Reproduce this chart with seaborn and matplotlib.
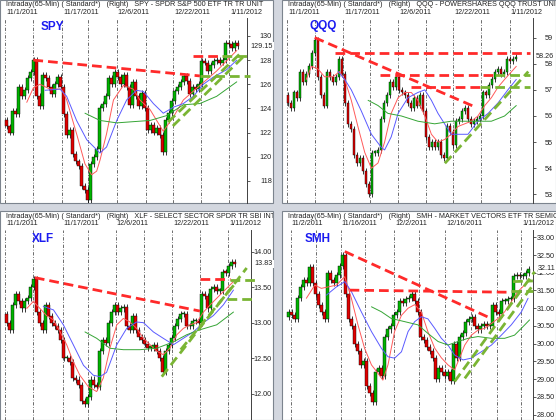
import numpy as np
import pandas as pd
import matplotlib
matplotlib.use("Agg")
import matplotlib.pyplot as plt
import seaborn as sns
from matplotlib.patches import Rectangle
from matplotlib.transforms import Bbox, TransformedBbox
from matplotlib import font_manager

# ---------------- data ----------------
spy_close = [122.5, 122.0, 123.8, 123.5, 125.8, 125.0, 125.5, 126.5, 127.0, 128.0,
             125.0, 124.2, 126.8, 126.5, 125.8, 125.2, 126.0, 126.6, 125.8, 123.5,
             121.8, 122.2, 120.2, 119.6, 119.2, 117.6, 117.2, 116.4, 119.4, 120.0,
             120.6, 124.0, 124.4, 125.0, 126.5, 126.0, 127.0, 126.6, 126.0, 126.8,
             125.8, 124.3, 126.2, 125.0, 124.2, 125.3, 124.0, 122.2, 122.6, 122.0,
             122.4, 121.8, 120.4, 123.0, 123.6, 124.6, 125.4, 125.8, 126.2, 126.7,
             126.3, 125.2, 125.8, 125.6, 126.0, 127.9, 127.8, 127.1, 127.6, 127.9,
             128.0, 127.8, 128.0, 129.4, 129.3, 129.0, 129.4, 129.15]
spy_open0 = 123.0
spy_red_x = [6.7, 8.9, 11.1, 14.4, 18.3, 20, 23.3, 26.1, 28.3, 30, 31.1, 33.3, 35.6, 38.9,
             42.2, 44.4, 47.8, 52.2, 55.6, 58.9, 64.4, 70, 76.7]
spy_red_y = [124.5, 125.7, 126.0, 125.6, 125.6, 124.7, 121.9, 119.4, 118.5, 118.8, 119.7,
             121.9, 124.7, 125.9, 125.6, 124.7, 123.9, 122.1, 123.3, 124.7, 125.9, 127.1, 128.8]
spy_blue_x = [12.8, 17.8, 20, 23.3, 26.7, 31.1, 33.3, 36.7, 40, 43.3, 45.6, 48.9, 52.2,
              55.6, 58.9, 62.2, 65.6, 68.9, 73.3, 76.7]
spy_blue_y = [125.5, 125.6, 125.0, 123.0, 121.4, 120.3, 120.8, 123.0, 124.7, 125.5, 125.4,
              124.4, 123.6, 124.1, 124.4, 125.0, 126.0, 126.6, 127.2, 128.0]
spy_green_x = [26.1, 31.1, 36.7, 42.2, 47.8, 53.3, 58.9, 64.4, 70, 76.7]
spy_green_y = [123.6, 123.0, 122.8, 122.9, 123.0, 123.4, 124.3, 124.4, 125.0, 126.2]
spy_red_trend = [[8.9, 128.0, 64.4, 126.69], [62.1, 128.37, 71.8, 128.37]]
spy_green_trend = [[71.8, 128.37, 81.1, 128.37], [64.4, 126.69, 81.1, 126.69],
                   [53.8, 122.87, 78.4, 128.67], [55.4, 122.54, 78.8, 128.26]]
spy_ticks = [118, 120, 122, 124, 126, 128, 130]
spy_grid = [-0.56, 8.89, 18.44, 27.2, 36.7, 46.3, 55.6, 64.9, 74.2]
spy_dates = ["11/1/2011", "11/17/2011", "12/6/2011", "12/22/2011", "1/11/2012"]

qqq_close = [56.5, 56.3, 56.9, 56.7, 57.7, 57.3, 57.6, 57.9, 58.4, 58.9,
             57.5, 56.8, 56.4, 57.7, 57.5, 57.3, 57.5, 58.2, 57.6, 56.5,
             55.7, 55.5, 54.5, 54.2, 54.4, 53.9, 53.4, 53.0, 54.6, 54.6,
             54.7, 55.9, 56.5, 56.8, 57.3, 57.1, 57.5, 57.0, 56.9, 56.8,
             56.5, 56.3, 56.7, 56.4, 56.8, 56.2, 55.2, 54.8, 55.0, 54.8,
             55.0, 54.5, 54.4, 55.6, 55.4, 54.9, 55.8, 55.9, 56.2, 56.3,
             55.9, 55.7, 55.8, 55.9, 56.0, 56.9, 56.8, 57.2, 57.4, 57.7,
             57.8, 57.6, 57.7, 58.2, 58.1, 58.2, 58.26]
qqq_open0 = 56.8
qqq_red_x = [6.1, 7.8, 10, 12.2, 15, 17.2, 18.9, 21.1, 23.3, 25.6, 27.8, 30, 32.2, 34.4,
             36.7, 38.9, 41.1, 43.3, 45.6, 47.8, 50, 52.2, 54.4, 56.7, 58.9, 61.1, 63.3,
             65.6, 67.8, 70, 72.2, 76.1]
qqq_red_y = [57.4, 57.9, 57.8, 57.5, 57.5, 57.7, 57.4, 56.6, 55.6, 54.6, 54.0, 54.2, 55.0,
             56.1, 56.7, 56.9, 56.9, 56.6, 56.0, 55.3, 55.0, 55.1, 55.3, 55.6, 55.7, 55.8,
             56.0, 56.4, 56.7, 57.1, 57.4, 57.9]
qqq_blue_x = [16.7, 18.9, 21.1, 24.4, 27.8, 31.1, 32.2, 34.4, 36.7, 40, 43.3, 45.6, 47.8,
              50, 52.2, 54.4, 57.2, 60, 63.3, 66.7, 70, 73.3, 76.1]
qqq_blue_y = [57.7, 57.4, 57.0, 56.2, 55.3, 54.8, 54.7, 55.2, 56.1, 56.7, 56.9, 57.0, 56.6,
              56.1, 55.7, 55.3, 55.3, 55.3, 55.8, 56.1, 56.5, 57.0, 57.4]
qqq_green_x = [26.7, 30, 33.3, 37.8, 43.3, 48.9, 54.4, 58.9, 63.3, 67.8, 72.2, 76.1]
qqq_green_y = [56.6, 56.4, 56.1, 56.0, 55.8, 55.7, 55.8, 55.8, 55.8, 55.8, 56.0, 56.4]
qqq_red_trend = [[8.9, 59.0, 61.7, 56.38], [15.6, 58.40, 80.7, 58.40],
                 [30.6, 57.57, 69.0, 57.57], [41.0, 57.12, 64.0, 57.12]]
qqq_green_trend = [[69.0, 57.55, 80.7, 57.55], [64.0, 57.12, 80.7, 57.12],
                   [52.3, 54.19, 80.1, 57.70]]
qqq_ticks = [53, 54, 55, 56, 57, 58, 59]
qqq_grid = [-0.2, 8.9, 18.3, 27.2, 36.7, 46.1, 55.0, 64.4, 73.9]
qqq_dates = ["11/1/2011", "11/17/2011", "12/6/2011", "12/22/2011", "1/11/2012"]

xlf_close = [13.0, 12.9, 13.25, 13.4, 13.3, 13.2, 13.3, 13.35, 13.5, 13.62,
             13.15, 13.0, 12.9, 13.25, 13.1, 13.0, 12.95, 12.9, 12.75, 12.5,
             12.5, 12.45, 12.22, 12.2, 12.12, 11.9, 11.85, 11.95, 12.2, 12.12,
             12.1, 12.6, 12.75, 12.72, 13.0, 13.15, 13.25, 13.15, 13.2, 13.22,
             12.95, 12.9, 13.1, 12.9, 12.8, 12.75, 12.7, 12.65, 12.65, 12.68,
             12.6, 12.5, 12.3, 12.6, 12.68, 12.78, 12.95, 13.05, 13.12, 13.12,
             12.95, 12.95, 13.02, 13.03, 13.0, 13.4, 13.38, 13.2, 13.48, 13.5,
             13.45, 13.45, 13.72, 13.7, 13.8, 13.86, 13.83]
xlf_open0 = 13.12
xlf_red_x = [6.7, 8.9, 11.1, 13.3, 15.6, 17.8, 20, 22.2, 24.4, 27.2, 30, 32.2, 34.4, 36.7,
             38.9, 41.1, 43.3, 45.6, 47.8, 50, 52.2, 54.4, 56.7, 58.9, 61.1, 63.3, 65.6,
             67.8, 71.1, 75.6]
xlf_red_y = [13.2, 13.3, 13.2, 13.1, 13.04, 12.87, 12.69, 12.45, 12.26, 12.1, 12.03, 12.22,
             12.64, 12.97, 13.06, 13.01, 12.92, 12.78, 12.69, 12.6, 12.55, 12.64, 12.83,
             12.92, 12.97, 13.0, 13.15, 13.25, 13.39, 13.58]
xlf_blue_x = [12.2, 15.6, 18.9, 22.2, 25.6, 28.9, 31.1, 33.3, 36.7, 40, 43.3, 45.6, 48.9,
              52.2, 55.6, 58.9, 62.2, 65.6, 68.9, 72.2, 75.6]
xlf_blue_y = [13.23, 13.18, 12.97, 12.69, 12.4, 12.26, 12.24, 12.3, 12.69, 12.92, 13.01,
              13.0, 12.87, 12.78, 12.69, 12.78, 12.87, 13.0, 13.1, 13.25, 13.46]
xlf_green_x = [26.1, 30, 34.4, 38.9, 44.4, 50, 55.6, 60, 64.4, 70, 75.6]
xlf_green_y = [12.87, 12.78, 12.64, 12.62, 12.62, 12.64, 12.73, 12.83, 12.9, 12.97, 13.15]
xlf_red_trend = [[9.4, 13.634, 64.4, 13.164], [64.4, 13.61, 74.4, 13.61]]
xlf_green_trend = [[74.4, 13.60, 82.8, 13.60], [73.3, 13.33, 82.8, 13.33],
                   [51.7, 12.24, 80.0, 13.77], [58.0, 12.62, 77.5, 13.62]]
xlf_ticks = [12.0, 12.5, 13.0, 13.5, 14.0]
xlf_grid = [-0.56, 8.9, 18.7, 27.2, 36.4, 45.8, 55.2, 64.4, 73.9]
xlf_dates = ["11/1/2011", "11/17/2011", "12/6/2011", "12/22/2011", "1/11/2012"]

smh_close = [30.9, 30.8, 30.7, 31.3, 31.6, 31.8, 31.7, 32.15, 31.7, 31.4,
             31.1, 30.9, 30.7, 32.0, 31.8, 31.7, 31.95, 32.2, 32.5, 31.4,
             30.7, 30.5, 30.0, 29.8, 29.4, 29.5, 28.8, 28.6, 28.35, 29.2,
             29.3, 29.1, 30.2, 30.4, 30.5, 30.8, 30.9, 31.2, 31.15, 31.25,
             31.3, 31.4, 31.2, 30.9, 30.2, 30.1, 29.9, 29.8, 29.6, 29.0,
             29.3, 29.2, 29.1, 29.2, 28.95, 30.0, 29.6, 30.2, 30.3, 30.6,
             30.7, 30.75, 30.5, 30.4, 30.5, 30.55, 30.5, 30.5, 31.1, 30.9,
             30.85, 31.2, 31.2, 31.25, 31.25, 31.9, 31.95, 31.9, 31.9, 32.0, 32.11]
smh_open0 = 30.75
smh_red_x = [5.9, 8.7, 10.9, 13.1, 15.9, 18.7, 20.9, 23.1, 25.3, 27.6, 29.8, 31.4, 33.1,
             35.3, 37.6, 39.8, 42, 44.2, 46.4, 48.7, 50.9, 53.1, 55.3, 57, 58.7, 60.9,
             63.1, 65.3, 67.6, 69.8, 72, 74.2, 76.4, 79.8]
smh_red_y = [31.28, 31.65, 31.56, 31.6, 31.65, 31.89, 31.28, 30.53, 29.87, 29.4, 29.16,
             28.97, 29.4, 30.34, 30.8, 31.0, 31.1, 30.9, 30.34, 29.87, 29.6, 29.4, 29.26,
             29.6, 29.96, 30.24, 30.38, 30.43, 30.57, 30.71, 30.9, 31.18, 31.47, 31.75]
smh_blue_x = [12.6, 15.9, 18.7, 20.9, 24.2, 27.6, 30.9, 33.1, 35.3, 37.6, 39.8, 42, 44.2,
              46.4, 48.7, 50.9, 53.1, 55.3, 58.1, 60.9, 64.2, 67.6, 70.9, 74.2, 77.6, 79.8]
smh_blue_y = [31.37, 31.6, 31.75, 31.47, 30.9, 30.34, 29.87, 29.63, 29.59, 29.77, 30.34,
              30.62, 30.76, 30.7, 30.43, 30.15, 29.96, 29.68, 29.54, 29.59, 29.77, 29.96,
              30.24, 30.53, 30.9, 31.28]
smh_green_x = [27.6, 30.9, 34.2, 38.7, 43.1, 46.4, 49.8, 53.1, 56.4, 59.8, 63.1, 67.6,
               72, 75.3, 78.7, 80.3]
smh_green_y = [31.04, 30.9, 30.71, 30.62, 30.53, 30.29, 30.06, 29.96, 30.06, 30.15, 30.2,
               30.15, 30.15, 30.24, 30.53, 30.67]
smh_red_trend = [[18.7, 32.60, 67.5, 30.71], [20.3, 31.51, 74.2, 31.45]]
smh_green_trend = [[74.2, 31.49, 81.4, 31.49], [74.8, 31.75, 81.4, 31.77],
                   [55.3, 28.93, 82.0, 32.03], [58.7, 29.02, 81.4, 31.65]]
smh_ticks = [28.0, 28.5, 29.0, 29.5, 30.0, 30.5, 31.0, 31.5, 32.0, 32.5, 33.0]
smh_grid = [0.67, 9.0, 17.3, 25.6, 35.1, 43.6, 52.1, 60.9, 69.4, 77.6]
smh_dates = ["11/2/2011", "11/16/2011", "12/2/2011", "12/16/2011", "1/11/2012"]

spy_header = "Intraday(65-Min) ( Standard*)   (Right)   SPY - SPDR S&P 500 ETF TR TR UNIT"
qqq_header = "Intraday(65-Min) ( Standard*)   (Right)   QQQ - POWERSHARES QQQ TRUST UNIT"
xlf_header = "Intraday(65-Min) ( Standard*)   (Right)   XLF - SELECT SECTOR SPDR TR SBI INT-F"
smh_header = "Intraday(65-Min) ( Standard*)   (Right)   SMH - MARKET VECTORS ETF TR SEMICO"

# ---------------- style ----------------
sns.set_theme(style="white")
_names = {f.name for f in font_manager.fontManager.ttflist}
SMALL_FAM = "Liberation Sans Narrow" if "Liberation Sans Narrow" in _names else "Liberation Sans"
plt.rcParams["font.family"] = [SMALL_FAM, "Liberation Sans", "DejaVu Sans"]

W, H = 556, 420
fig = plt.figure(figsize=(W / 100, H / 100), dpi=100)
fig.patch.set_facecolor("#d3d7df")

# fit the small-text size so that the header prefix spans ~95 px as in the reference
_probe = fig.text(0, 0, "Intraday(65-Min) ( Standard*)", fontsize=10)
fig.canvas.draw()
_w = _probe.get_window_extent().width
_probe.remove()
FS = 10 * 95.0 / _w


def fbox(l, t, r, b):
    return [l / W, 1 - b / H, (r - l) / W, (b - t) / H]


GREEN_C = "#00b400"
RED_C = "#e00000"


def panel(name, close, open0, red, blue, green, rtr, gtr, ticks, fmt, grid, dates, header,
          prect, arect, ylim, xlim, lab_pos, date_labels_at, hdr_y, date_y, lab_right):
    l, t, r, b = prect
    fig.patches.append(Rectangle((l / W, 1 - b / H), (r - l) / W, (b - t) / H,
                                 transform=fig.transFigure, facecolor="white",
                                 edgecolor="#7c848e", linewidth=0.8, zorder=-5))
    clip = TransformedBbox(Bbox.from_extents(l / W, 1 - b / H, r / W, 1 - t / H),
                           fig.transFigure)
    ax = fig.add_axes(fbox(*arect))
    ax.set_facecolor("none")
    ax.set_xlim(*xlim)
    ax.set_ylim(*ylim)
    span = ylim[1] - ylim[0]

    for g in grid:
        ax.axvline(g, color="#555555", lw=0.6, ls=(0, (4, 2, 1, 2)), zorder=1)

    c = np.asarray(close, dtype=float)
    o = np.r_[open0, c[:-1]]
    x = np.arange(len(c))
    wick = 0.016 * span
    hi = np.maximum(o, c) + wick
    lo = np.minimum(o, c) - wick
    ax.vlines(x, lo, hi, color="black", lw=0.55, zorder=2)
    bottom = np.minimum(o, c)
    height = np.maximum(np.abs(c - o), 0.008 * span)
    cols = [GREEN_C if cc >= oo else RED_C for cc, oo in zip(c, o)]
    ax.bar(x, height, bottom=bottom, width=0.85, color=cols, edgecolor="black",
           linewidth=0.3, zorder=3)

    for (mx, my), colr in zip([red, blue, green], ["#ff5a5a", "#5a5aff", "#35a535"]):
        sns.lineplot(x=mx, y=my, ax=ax, color=colr, lw=0.7, sort=False, legend=False,
                     zorder=4)

    for x0, y0, x1, y1 in rtr:
        ax.plot([x0, x1], [y0, y1], color="#ff2a2a", lw=2.0, ls=(0, (3.5, 1.8)),
                zorder=5, clip_on=False, dash_capstyle="butt")
    for x0, y0, x1, y1 in gtr:
        ax.plot([x0, x1], [y0, y1], color="#7ab534", lw=2.0, ls=(0, (3.5, 1.8)),
                zorder=5, clip_on=False, dash_capstyle="butt")

    for s in ["left", "top", "bottom"]:
        ax.spines[s].set_visible(False)
    ax.spines["right"].set_color("#404040")
    ax.spines["right"].set_linewidth(0.7)
    ax.set_xticks([])
    ax.yaxis.tick_right()
    ax.set_yticks(ticks)
    ax.set_yticklabels([fmt.format(v) for v in ticks])
    off_px = lab_right - arect[2]
    ax.tick_params(axis="y", which="major", right=True, left=False, labelright=True,
                   labelleft=False, length=2.5, width=0.6, color="#404040",
                   labelsize=FS, labelcolor="#222222", pad=off_px * 0.72 - 2.5)
    for lab in ax.get_yticklabels():
        lab.set_horizontalalignment("right")
    ax.set_xlabel("")
    ax.set_ylabel("")

    last = c[-1]
    ax.annotate(f"{last:.2f}", xy=(1, last), xycoords=("axes fraction", "data"),
                xytext=(off_px + 1, 0), textcoords="offset pixels", ha="right", va="center",
                fontsize=FS, color="#222222", annotation_clip=False, zorder=10,
                bbox=dict(boxstyle="square,pad=0.1", fc="white", ec="none"))

    th = fig.text((l + 6) / W, 1 - hdr_y / H, header, fontsize=FS, color="#222222",
                  ha="left", va="center")
    th.set_clip_box(clip)
    th.set_clip_on(True)
    for gi, dl in zip(date_labels_at, dates):
        td = ax.annotate(dl, xy=(grid[gi], 1), xycoords=("data", "axes fraction"),
                         xytext=(1, (arect[1] - date_y)), textcoords="offset pixels",
                         ha="left", va="center", fontsize=FS, color="#222222",
                         annotation_clip=False)
        td.set_clip_box(clip)
        td.set_clip_on(True)
    fig.text(lab_pos[0] / W, 1 - lab_pos[1] / H, name, fontsize=8.5, fontweight="bold",
             color="#1c1cf0", ha="center", va="center", family="Liberation Sans")
    return ax


panel("SPY", spy_close, spy_open0, (spy_red_x, spy_red_y), (spy_blue_x, spy_blue_y),
      (spy_green_x, spy_green_y), spy_red_trend, spy_green_trend, spy_ticks, "{:.0f}",
      spy_grid, spy_dates, spy_header, (0, 0, 273, 203), (2, 18, 247, 203),
      (116.16, 131.49), (-1.556, 80.11), (52, 27), [0, 2, 4, 6, 8], 4.5, 12.8, 272)
panel("QQQ", qqq_close, qqq_open0, (qqq_red_x, qqq_red_y), (qqq_blue_x, qqq_blue_y),
      (qqq_green_x, qqq_green_y), qqq_red_trend, qqq_green_trend, qqq_ticks, "{:.0f}",
      qqq_grid, qqq_dates, qqq_header, (282, 0, 556, 203), (282, 18, 533, 203),
      (52.67, 59.75), (-2.0, 81.67), (323, 26), [0, 2, 4, 6, 8], 4.5, 12.8, 553)
panel("XLF", xlf_close, xlf_open0, (xlf_red_x, xlf_red_y), (xlf_blue_x, xlf_blue_y),
      (xlf_green_x, xlf_green_y), xlf_red_trend, xlf_green_trend, xlf_ticks, "{:.2f}",
      xlf_grid, xlf_dates, xlf_header, (0, 211, 273, 420), (2, 230, 251, 420),
      (11.63, 14.305), (-1.556, 81.44), (43, 239), [0, 2, 4, 6, 8], 216.5, 223.5, 272)
panel("SMH", smh_close, smh_open0, (smh_red_x, smh_red_y), (smh_blue_x, smh_blue_y),
      (smh_green_x, smh_green_y), smh_red_trend, smh_green_trend, smh_ticks, "{:.2f}",
      smh_grid, smh_dates, smh_header, (282, 211, 556, 420), (282, 230, 533, 420),
      (27.845, 33.207), (-2.22, 81.44), (318, 239), [0, 2, 4, 6, 9], 216.5, 223.5, 555)

fig.savefig("out.png", dpi=100, facecolor=fig.get_facecolor())
